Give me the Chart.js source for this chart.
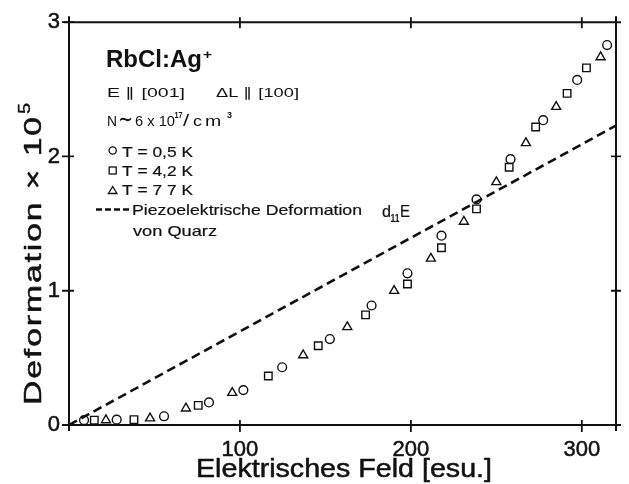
<!DOCTYPE html>
<html><head><meta charset="utf-8">
<script src="https://cdn.jsdelivr.net/npm/chart.js@4"></script>
<style>html,body{margin:0;padding:0;background:#fff;overflow:hidden}#wrap{width:629px;height:484px}</style>
</head><body><div id="wrap"><canvas id="c" width="629" height="484"></canvas></div>
<script>
// ---- data ----
const circleX = [8.8, 27.9, 55.6, 81.9, 102, 124.7, 152.6, 177, 198, 217.9, 238.4, 258.3, 277.4, 297.3, 314.8];
const circleY = [0.036, 0.04, 0.065, 0.168, 0.26, 0.43, 0.64, 0.89, 1.13, 1.41, 1.68, 1.98, 2.27, 2.57, 2.83];
const squareX = [14.8, 38, 75.6, 116.6, 145.8, 173.5, 198, 217.9, 238.4, 257.5, 273, 291.4, 302.7];
const squareY = [0.036, 0.04, 0.146, 0.365, 0.59, 0.82, 1.05, 1.32, 1.61, 1.92, 2.22, 2.47, 2.66];
const triX = [21.6, 47.4, 68.4, 95.5, 137, 162.8, 190.2, 211.7, 231, 250, 267.3, 285, 311];
const triY = [0.036, 0.05, 0.124, 0.24, 0.52, 0.73, 1.0, 1.24, 1.515, 1.81, 2.10, 2.37, 2.74];
const quartzX = [0, 320];
const quartzY = [0, 2.23];
const xTicks = [100, 200, 300];
const yTicks = [0, 1, 2, 3];
const xRange = [0, 320];
const yRange = [0, 3];
const seriesLabels = ['T = 0,5 K', 'T = 4,2 K', 'T = 7 7 K'];
const xTitle = 'Elektrisches Feld [esu.]';
const yTitle = 'Deformation × 10';

const FONT = '"Liberation Sans", Arial, Helvetica, sans-serif';
const INK = '#111';
const pts = (xs, ys) => xs.map((v, i) => ({x: v, y: ys[i]}));

function fitText(ctx, text, x, y, size, weight, w, rotate, maxS, stroke) {
  ctx.save();
  ctx.font = `${weight} ${size}px ${FONT}`;
  ctx.fillStyle = INK;
  ctx.strokeStyle = INK;
  ctx.textBaseline = 'alphabetic';
  ctx.textAlign = 'left';
  const m = ctx.measureText(text).width;
  let s = w / m;
  maxS = maxS || 1.3;
  ctx.translate(x, y);
  if (rotate) ctx.rotate(rotate);
  if (s > maxS && 'letterSpacing' in ctx) {
    const extra = w - m * maxS;
    ctx.letterSpacing = (extra / maxS / Math.max(1, text.length - 1)) + 'px';
    s = maxS;
  }
  ctx.scale(s, 1);
  ctx.fillText(text, 0, 0);
  if (stroke) { ctx.lineWidth = stroke; ctx.lineJoin = 'round'; ctx.strokeText(text, 0, 0); }
  ctx.restore();
}

const deco = {
  id: 'deco',
  afterDraw(chart) {
    const {ctx, chartArea: a, scales: {x, y}} = chart;
    ctx.save();
    ctx.strokeStyle = INK;
    ctx.lineWidth = 2;
    ctx.lineCap = 'butt';
    ctx.beginPath();
    ctx.moveTo(a.left - 5, a.top); ctx.lineTo(a.right + 5, a.top);
    ctx.moveTo(a.left - 5, a.bottom); ctx.lineTo(a.right + 5, a.bottom);
    ctx.moveTo(a.left, a.top - 6); ctx.lineTo(a.left, a.bottom + 6);
    ctx.moveTo(a.right, a.top - 6); ctx.lineTo(a.right, a.bottom + 6);
    ctx.stroke();
    ctx.lineWidth = 1.8;
    ctx.beginPath();
    xTicks.forEach(v => {
      const px = x.getPixelForValue(v);
      ctx.moveTo(px, a.bottom - 5); ctx.lineTo(px, a.bottom + 7);
      ctx.moveTo(px, a.top - 5); ctx.lineTo(px, a.top + 6);
    });
    yTicks.forEach(v => {
      const py = y.getPixelForValue(v);
      ctx.moveTo(a.left - 7, py); ctx.lineTo(a.left + 5, py);
      if (v > 0 && v < 3) { ctx.moveTo(a.right - 5, py); ctx.lineTo(a.right + 5, py); }
    });
    ctx.stroke();

    // axis titles
    fitText(ctx, xTitle, 196, 477, 25, 'normal', 296, 0, 1.3, 0.5);
    fitText(ctx, yTitle, 41, 405, 24, 'normal', 288, -Math.PI / 2, 1.4, 0.5);
    fitText(ctx, '5', 30, 114, 17, 'normal', 11, -Math.PI / 2, 1.3, 0.4);

    // annotation block
    fitText(ctx, 'RbCl:Ag', 106, 67, 23, 'bold', 96);
    fitText(ctx, '+', 203, 59, 13, 'bold', 9);
    fitText(ctx, 'E ∥ [001]', 107, 97, 13, 'normal', 78, 0, 1.5);
    fitText(ctx, 'ΔL ∥ [100]', 216, 97, 13, 'normal', 83, 0, 1.5);
    fitText(ctx, 'N', 107, 126, 15, 'normal', 10);
    fitText(ctx, '∼', 117.5, 127, 24, 'normal', 15);
    fitText(ctx, '6 x 10', 135, 126, 15, 'normal', 40);
    fitText(ctx, '17', 174.5, 118, 9, 'bold', 8);
    fitText(ctx, '/', 183, 126, 17, 'normal', 9);
    fitText(ctx, 'c', 193, 126, 15, 'normal', 9);
    fitText(ctx, 'm', 205, 126, 15, 'normal', 21);
    fitText(ctx, '3', 227, 118, 9, 'bold', 5);

    // legend markers
    ctx.lineWidth = 1.3;
    ctx.beginPath(); ctx.arc(112.7, 150.5, 3.6, 0, Math.PI * 2); ctx.stroke();
    ctx.strokeRect(109.2, 167, 7, 7);
    ctx.beginPath(); ctx.moveTo(112.7, 186.5); ctx.lineTo(117, 193.5); ctx.lineTo(108.4, 193.5); ctx.closePath(); ctx.stroke();
    fitText(ctx, seriesLabels[0], 122, 157, 15, 'normal', 71, 0, 1.3, 0.2);
    fitText(ctx, seriesLabels[1], 122, 176, 15, 'normal', 71, 0, 1.3, 0.2);
    fitText(ctx, seriesLabels[2], 122, 195, 15, 'normal', 71, 0, 1.3, 0.2);

    // quartz legend
    ctx.lineWidth = 2.4;
    ctx.setLineDash([6, 3]);
    ctx.beginPath(); ctx.moveTo(96, 209.5); ctx.lineTo(131, 209.5); ctx.stroke();
    ctx.setLineDash([]);
    fitText(ctx, 'Piezoelektrische Deformation', 132, 215, 15, 'normal', 230, 0, 1.3, 0.2);
    fitText(ctx, 'd', 382, 217, 16, 'normal', 9, 0, 1.3, 0.2);
    fitText(ctx, '11', 390.5, 222, 10, 'bold', 9);
    fitText(ctx, 'E', 400, 217, 16, 'normal', 10, 0, 1.3, 0.2);
    fitText(ctx, 'von Quarz', 133, 236, 15, 'normal', 84, 0, 1.3, 0.2);
    ctx.restore();
  }
};

const common = {showLine: false, borderColor: INK, backgroundColor: 'rgba(0,0,0,0)', borderWidth: 1.4};
new Chart(document.getElementById('c'), {
  type: 'scatter',
  data: {
    datasets: [
      {type: 'line', data: pts(quartzX, quartzY), borderColor: INK, borderWidth: 2.6, borderDash: [9, 5], pointRadius: 0, fill: false, showLine: true, order: 2},
      Object.assign({data: pts(circleX, circleY), pointStyle: 'circle', pointRadius: 4.4, order: 1}, common),
      Object.assign({data: pts(squareX, squareY), pointStyle: 'rect', pointRadius: 5.3, order: 1}, common),
      Object.assign({data: pts(triX, triY), pointStyle: 'triangle', pointRadius: 5.2, order: 1}, common)
    ]
  },
  options: {
    responsive: false, devicePixelRatio: 1, animation: false,
    layout: {padding: {left: 0, right: 13, top: 15, bottom: 0}},
    plugins: {legend: {display: false}, tooltip: {enabled: false}},
    scales: {
      x: {
        type: 'linear', min: xRange[0], max: xRange[1],
        afterBuildTicks: s => { s.ticks = xTicks.map(v => ({value: v})); },
        afterFit: s => { s.height = 59; },
        grid: {display: false, drawTicks: false}, border: {display: false},
        ticks: {color: INK, textStrokeColor: INK, textStrokeWidth: 0.5, padding: 12, maxRotation: 0, font: {family: FONT, size: 22}, callback: v => String(v)}
      },
      y: {
        type: 'linear', min: yRange[0], max: yRange[1],
        afterBuildTicks: s => { s.ticks = yTicks.map(v => ({value: v})); },
        afterFit: s => { s.width = 69; },
        grid: {display: false, drawTicks: false}, border: {display: false},
        ticks: {color: INK, textStrokeColor: INK, textStrokeWidth: 0.5, padding: 9, font: {family: FONT, size: 22}, callback: v => String(v)}
      }
    }
  },
  plugins: [deco]
});
</script></body></html>
